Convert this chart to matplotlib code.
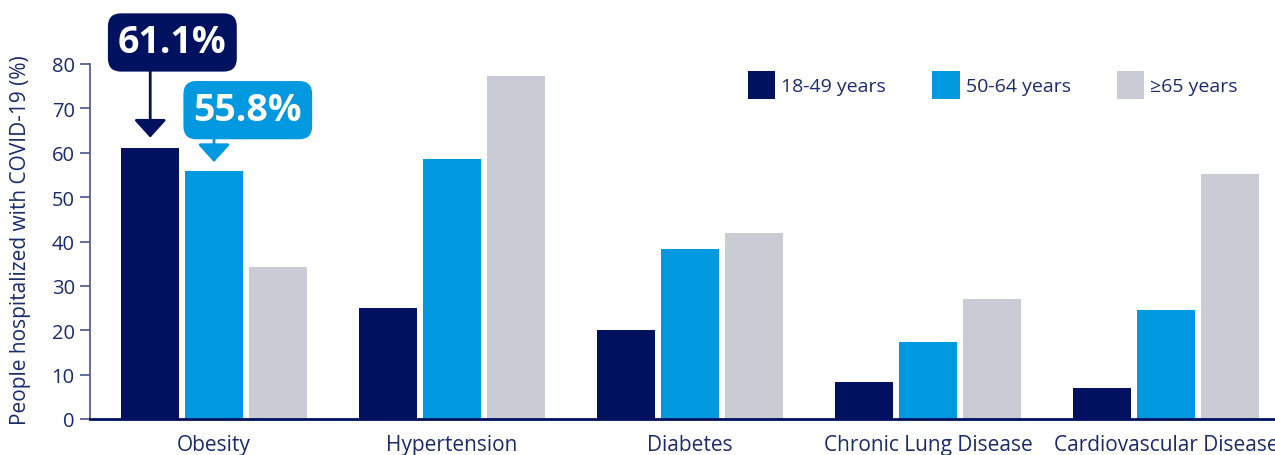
import matplotlib
matplotlib.use("Agg")
import matplotlib.pyplot as plt
import numpy as np

categories = ["Obesity", "Hypertension", "Diabetes", "Chronic Lung Disease", "Cardiovascular Disease"]
series_names = ["18-49 years", "50-64 years", "≥65 years"]
vals_18_49 = [61.1, 25.0, 20.1, 8.3, 7.0]
vals_50_64 = [55.8, 58.6, 38.3, 17.4, 24.6]
vals_65 = [34.2, 77.3, 41.9, 27.0, 55.2]
yticks = [0, 10, 20, 30, 40, 50, 60, 70, 80]
ylabel = "People hospitalized with COVID-19 (%)"
callout_texts = ["61.1%", "55.8%"]

NAVY = "#00115F"
BLUE = "#0098DF"
GRAY = "#C9CCD4"
TEXT = "#1B2A6B"
colors = [NAVY, BLUE, GRAY]

plt.rcParams['font.family'] = ['Open Sans', 'DejaVu Sans']

fig = plt.figure(figsize=(12.75, 4.56), dpi=100)
ax = fig.add_axes([90/1275, 36/456, 1 - 90/1275, (420-65)/456])

x = np.arange(len(categories))
w = 0.244
off = 0.268
for i, (vals, c, name) in enumerate(zip([vals_18_49, vals_50_64, vals_65], colors, series_names)):
    ax.bar(x + (i-1)*off, vals, width=w, color=c, label=name, zorder=2)

ax.set_ylim(0, 80)
ax.set_xlim(-0.521, 4.458)
ax.set_yticks(yticks)
ax.set_xticks(x)
ax.set_xticklabels(categories)
ax.tick_params(axis='y', colors=TEXT, labelsize=14.5, length=7, width=1.2, pad=4, color="#4A5590")
ax.tick_params(axis='x', colors=TEXT, labelsize=15, length=0, pad=11)
for lab in ax.get_xticklabels() + ax.get_yticklabels():
    lab.set_color(TEXT)
for s in ["top", "right"]:
    ax.spines[s].set_visible(False)
ax.spines["left"].set_color("#4A5590")
ax.spines["left"].set_linewidth(1.2)
ax.spines["bottom"].set_color(NAVY)
ax.spines["bottom"].set_linewidth(2)
ax.spines["bottom"].set_zorder(3)
ax.set_ylabel(ylabel, color=TEXT, fontsize=15)
ax.yaxis.set_label_coords(-0.050, 0.507)

leg = ax.legend(loc="upper left", bbox_to_anchor=(748/1275, 1 - 72/456),
                bbox_transform=fig.transFigure, ncol=3, frameon=False,
                fontsize=14, handlelength=1.4, handleheight=1.85, handletextpad=0.3,
                columnspacing=2.4, labelcolor=TEXT, borderpad=0, borderaxespad=0)

# callout boxes
ax.text(-0.175, 84.85, callout_texts[0], ha="center", va="center", color="white",
        fontsize=27, fontweight="bold", clip_on=False, zorder=5,
        bbox=dict(boxstyle="round,pad=0.27,rounding_size=0.35", fc=NAVY, ec="none"))
ax.text(0.142, 69.6, callout_texts[1], ha="center", va="center", color="white",
        fontsize=27, fontweight="bold", clip_on=False, zorder=5,
        bbox=dict(boxstyle="round,pad=0.27,rounding_size=0.35", fc=BLUE, ec="none"))
# arrows
ax.annotate("", xy=(-off, 63.4), xytext=(-off, 79.0),
            arrowprops=dict(arrowstyle="-|>,head_width=0.5,head_length=0.55", color=NAVY,
                            lw=2, mutation_scale=20, shrinkA=0, shrinkB=0),
            annotation_clip=False, zorder=4)
ax.annotate("", xy=(0.0, 57.9), xytext=(0.0, 63.5),
            arrowprops=dict(arrowstyle="-|>,head_width=0.5,head_length=0.55", color=BLUE,
                            lw=2, mutation_scale=20, shrinkA=0, shrinkB=0),
            annotation_clip=False, zorder=4)

fig.savefig("out.png", dpi=100)
